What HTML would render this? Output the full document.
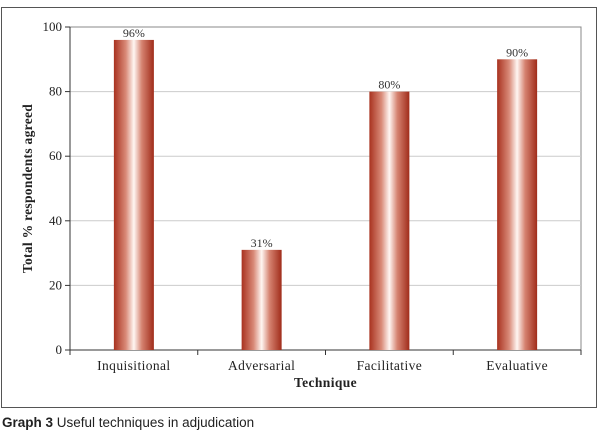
<!DOCTYPE html>
<html><head><style>
body{margin:0;background:#fff;width:602px;height:439px;overflow:hidden;position:relative;font-family:"Liberation Serif",serif}
#frame{position:absolute;left:1px;top:7px;width:596px;height:401px;border:1px solid #555;box-sizing:border-box}
#cap{position:absolute;left:2px;top:415px;font-family:"Liberation Sans",sans-serif;font-size:13.5px;color:#222}
svg text{font-family:"Liberation Serif",serif}
</style></head><body>
<div id="frame"></div>
<svg id="chart" width="602" height="439" font-family="Liberation Serif, serif" style="position:absolute;left:0;top:0"></svg>
<div id="cap"><b>Graph 3</b> Useful techniques in adjudication</div>
<script>
const categories=["Inquisitional","Adversarial","Facilitative","Evaluative"];
const values=[96,31,80,90];
const yTicks=[0,20,40,60,80,100];
const svg=document.getElementById('chart');
const NS='http://www.w3.org/2000/svg';
const L=70,R=581,T=27,B=350;
const y=v=>B-(v/100)*(B-T);
const bw=(R-L)/categories.length;
const x=i=>L+bw*(i+0.5);
function mk(t,a,txt){const e=document.createElementNS(NS,t);for(const k in a)e.setAttribute(k,a[k]);if(txt!==undefined)e.textContent=txt;svg.appendChild(e);return e;}
const defs=document.createElementNS(NS,'defs');
defs.innerHTML='<linearGradient id="g" x1="0" x2="1"><stop offset="0" stop-color="#a8321f"/><stop offset="0.3" stop-color="#d98a78"/><stop offset="0.5" stop-color="#fff6f2"/><stop offset="0.7" stop-color="#d58270"/><stop offset="1" stop-color="#a02c1a"/></linearGradient>';
svg.appendChild(defs);
let e=mk('rect',{x:L,y:T,width:R-L,height:B-T,fill:'none',stroke:'#888','stroke-width':1});

yTicks.forEach(v=>{
  if(v>0&&v<100){const g=mk('line',{x1:L,x2:R,y1:y(v),y2:y(v),stroke:'#ccc'});}
  const t=mk('line',{x1:L-5,x2:L,y1:y(v),y2:y(v),stroke:'#333'});
  const l=mk('text',{x:L-8,y:y(v)+4,'text-anchor':'end','font-size':'13',fill:'#222'},v);
});
e=mk('line',{x1:L,x2:L,y1:T,y2:B,stroke:'#333'});
e=mk('line',{x1:L,x2:R,y1:B,y2:B,stroke:'#333'});
for(let i=0;i<=categories.length;i++){const t=mk('line',{x1:L+bw*i,x2:L+bw*i,y1:B,y2:B+5,stroke:'#333'});}
categories.forEach((c,i)=>{
  const b=mk('rect',{x:x(i)-20,y:y(values[i]),width:40,height:B-y(values[i]),fill:'url(#g)'});
  
  const v=mk('text',{x:x(i),y:y(values[i])-3,'text-anchor':'middle','font-size':'12',fill:'#333'},values[i]+'%');
  
  const l=mk('text',{x:x(i),y:B+20,'text-anchor':'middle','font-size':'13.5','letter-spacing':'0.4',fill:'#222'},c);
  
});
e=mk('text',{x:(L+R)/2,y:387,'text-anchor':'middle','font-size':'13.5','font-weight':'bold','letter-spacing':'0.4',fill:'#222'},'Technique');

e=mk('text',{x:0,y:0,'text-anchor':'middle','font-size':'13.5','font-weight':'bold','letter-spacing':'0.3',fill:'#222',transform:'translate(32,'+((T+B)/2)+') rotate(-90)'},'Total  % respondents agreed');

</script>
</body></html>
